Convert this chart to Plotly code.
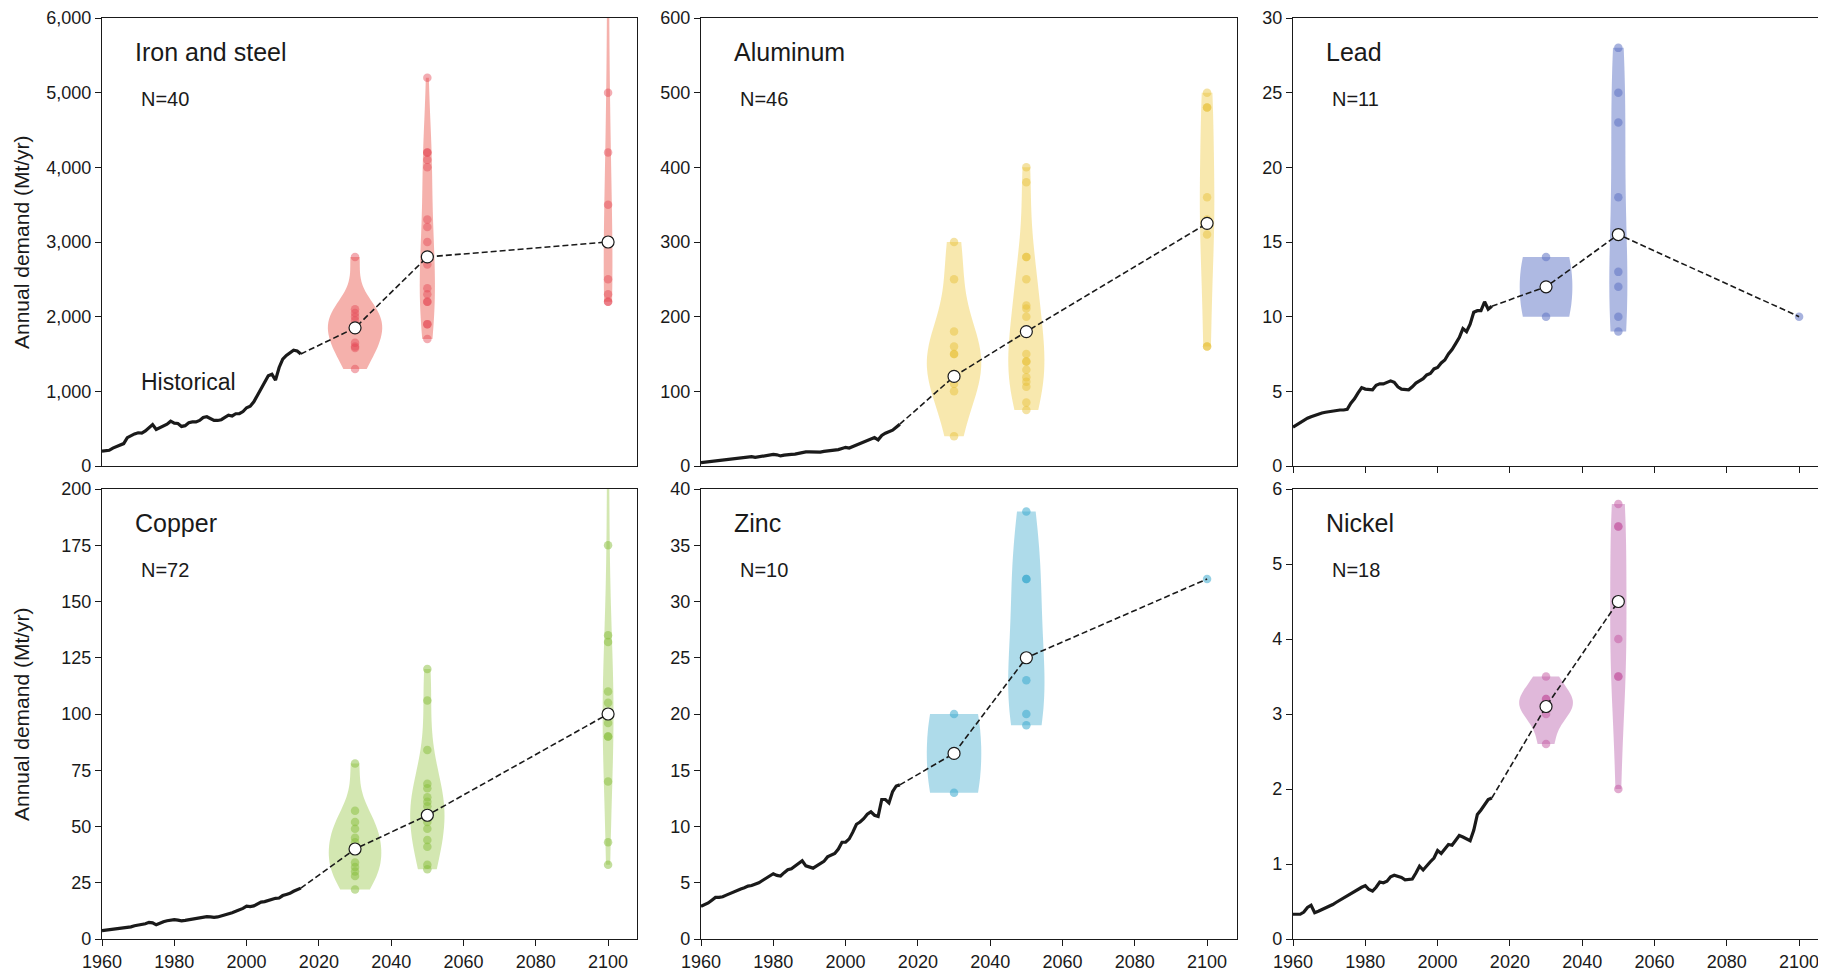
import numpy as np
import plotly.graph_objects as go

# ---------------- data ----------------
hist_years = list(range(1960, 2016))

iron_hist = [200, 205, 210, 240, 260, 280, 300, 380, 410, 430, 445, 440, 470, 520, 555, 490, 510, 530, 560, 600,
             575, 570, 530, 540, 580, 590, 590, 610, 650, 660, 640, 610, 610, 620, 650, 680, 670, 700, 700, 730,
             780, 800, 860, 950, 1050, 1140, 1210, 1230, 1150, 1320, 1430, 1480, 1520, 1550, 1540, 1500]
alu_hist = [4.5, 5, 5.5, 6, 6.5, 7, 7.6, 8.2, 8.8, 9.5, 10, 10.5, 11, 12, 12.5, 11.5, 12.5, 13.5, 14.5, 15.5,
            15.5, 15, 13.5, 14.5, 15.5, 15.5, 16, 17, 18.5, 19, 19, 18.5, 18.5, 18.5, 19.5, 20, 21, 22, 22, 23.5,
            25, 24, 26, 28, 30, 32, 34, 37, 38, 35, 41, 44, 46, 48, 52, 56]
lead_hist = [2.6, 2.75, 2.9, 3.1, 3.2, 3.3, 3.4, 3.45, 3.55, 3.6, 3.65, 3.7, 3.7, 3.75, 3.75, 3.8, 4.2, 4.5, 4.9, 5.25,
             5.15, 5.1, 5.1, 5.4, 5.5, 5.5, 5.6, 5.7, 5.6, 5.3, 5.15, 5.1, 5.1, 5.3, 5.55, 5.7, 5.85, 6.1, 6.2, 6.5,
             6.6, 6.9, 7.1, 7.5, 7.8, 8.2, 8.6, 9.2, 9.0, 9.5, 10.3, 10.4, 10.4, 11.0, 10.5, 10.7]
copper_hist = [3.7, 3.9, 4.1, 4.4, 4.7, 5.0, 5.1, 5.2, 5.4, 5.9, 6.2, 6.3, 6.8, 7.4, 7.2, 6.3, 7.2, 7.7, 8.1, 8.5,
               8.6, 8.4, 8.1, 8.3, 8.6, 8.8, 9.0, 9.4, 9.6, 9.9, 9.8, 9.6, 9.8, 10.2, 10.8, 11.2, 11.7, 12.3, 12.8, 13.6,
               14.6, 14.4, 14.7, 15.4, 16.4, 16.6, 17.1, 17.9, 18.1, 18.2, 19.3, 19.8, 20.3, 21.2, 22.0, 22.6]
zinc_hist = [2.9, 3.05, 3.2, 3.45, 3.7, 3.7, 3.75, 3.9, 4.05, 4.15, 4.3, 4.45, 4.55, 4.7, 4.75, 4.85, 5.0, 5.2, 5.4, 5.6,
             5.8, 5.65, 5.6, 5.9, 6.15, 6.25, 6.5, 6.7, 6.95, 6.5, 6.4, 6.3, 6.5, 6.7, 6.9, 7.3, 7.45, 7.6, 8.0, 8.6,
             8.6, 8.9, 9.5, 10.2, 10.4, 10.7, 11.1, 11.3, 11.0, 10.9, 12.4, 12.4, 12.1, 13.1, 13.6, 13.7]
nickel_hist = [0.33, 0.33, 0.33, 0.36, 0.42, 0.45, 0.35, 0.37, 0.39, 0.41, 0.43, 0.46, 0.49, 0.52, 0.55, 0.58, 0.61, 0.63, 0.66, 0.69,
               0.71, 0.66, 0.64, 0.69, 0.76, 0.75, 0.77, 0.83, 0.85, 0.84, 0.82, 0.79, 0.79, 0.80, 0.88, 0.97, 0.92, 0.98, 1.03, 1.08,
               1.18, 1.14, 1.20, 1.26, 1.25, 1.32, 1.38, 1.36, 1.33, 1.31, 1.45, 1.66, 1.72, 1.79, 1.86, 1.88]

proj_years = [2030, 2050, 2100]

iron_2030 = [1300, 1580, 1600, 1650, 1850, 1950, 2000, 2050, 2100, 2800]
iron_2050 = [1700, 1900, 1900, 2200, 2200, 2300, 2380, 2700, 2800, 3000, 3200, 3300, 4000, 4100, 4200, 4200, 5200]
iron_2100 = [2200, 2200, 2300, 2500, 3000, 3500, 4200, 5000, 6800]
iron_median = [1850, 2800, 3000]

alu_2030 = [40, 100, 110, 120, 150, 150, 160, 180, 250, 300]
alu_2050 = [75, 85, 106, 113, 119, 129, 140, 140, 150, 180, 200, 211, 215, 250, 280, 280, 380, 400]
alu_2100 = [160, 160, 310, 325, 330, 360, 480, 480, 500]
alu_median = [120, 180, 325]

lead_2030 = [10, 14]
lead_2050 = [9, 10, 12, 13, 18, 23, 25, 28]
lead_2100 = [10]
lead_median = [12, 15.5, 10]

copper_2030 = [22, 28, 30, 32, 34, 40, 43, 45, 49, 52, 57, 78]
copper_2050 = [31, 33, 41, 44, 49, 52, 55, 59, 61, 63, 67, 69, 84, 106, 120]
copper_2100 = [33, 43, 70, 90, 90, 96, 100, 105, 110, 132, 135, 175, 215]
copper_median = [40, 55, 100]

zinc_2030 = [13, 20]
zinc_2050 = [19, 20, 23, 25, 32, 32, 38]
zinc_2100 = [32]
zinc_median = [16.5, 25, 32]

nickel_2030 = [2.6, 3.0, 3.1, 3.2, 3.2, 3.5]
nickel_2050 = [2.0, 3.5, 3.5, 4.0, 4.5, 5.5, 5.5, 5.8]
nickel_median = [3.1, 4.5]

titles = ["Iron and steel", "Aluminum", "Lead", "Copper", "Zinc", "Nickel"]
n_labels = ["N=40", "N=46", "N=11", "N=72", "N=10", "N=18"]
y_max = [6000, 600, 30, 200, 40, 6]
y_dtick = [1000, 100, 5, 25, 5, 1]
x_ticks = [1960, 1980, 2000, 2020, 2040, 2060, 2080, 2100]

# ---------------- styling ----------------
FONT = "Liberation Sans, Arial, Helvetica, sans-serif"
INK = "#1a1a1a"
fills = ["rgba(240,140,132,0.68)", "rgba(245,222,140,0.7)", "rgba(120,138,206,0.6)",
         "rgba(190,220,140,0.68)", "rgba(130,200,222,0.65)", "rgba(205,140,195,0.62)"]
pts = ["rgba(228,70,85,0.45)", "rgba(230,190,50,0.45)", "rgba(95,115,195,0.55)",
       "rgba(135,190,60,0.5)", "rgba(60,170,205,0.55)", "rgba(195,85,160,0.5)"]

panels = [
    (iron_hist, [iron_2030, iron_2050, iron_2100], iron_median, [15, 4.2, 2.4]),
    (alu_hist, [alu_2030, alu_2050, alu_2100], alu_median, [15, 10, 4]),
    (lead_hist, [lead_2030, lead_2050, lead_2100], lead_median, [14.5, 5, 0]),
    (copper_hist, [copper_2030, copper_2050, copper_2100], copper_median, [14.5, 9.5, 3]),
    (zinc_hist, [zinc_2030, zinc_2050, zinc_2100], zinc_median, [15, 10, 0]),
    (nickel_hist, [nickel_2030, nickel_2050], nickel_median, [14.8, 4.5]),
]

# the page body adds an 8 px margin before the figure: lay out in page pixels minus that offset
OFF = 8
W, H = 1826, 970
col_px = [(102, 637), (701, 1237), (1293, 1829)]   # page pixels of the frames
row_px = [(18, 466), (489, 939)]
px_per_year = (637 - 102) / 148.0

fig = go.Figure()
layout = dict(template="none", width=W, height=H, margin=dict(l=0, r=0, t=0, b=0, autoexpand=False),
              paper_bgcolor="white", plot_bgcolor="white", showlegend=False,
              violinmode="overlay", font=dict(family=FONT, color=INK))
annotations = []

for i in range(6):
    r, c = divmod(i, 3)
    ax = "" if i == 0 else str(i + 1)
    xa, ya = "x" + ax, "y" + ax
    x0, x1 = col_px[c][0] - OFF, col_px[c][1] - OFF
    xend = 1960 + (x1 - x0) / px_per_year
    y0, y1 = row_px[r][0] - OFF, row_px[r][1] - OFF
    ph = y1 - y0
    hist, proj, med, widths = panels[i]

    # violins (Scott bandwidth, as in a gaussian KDE)
    for k, vals in enumerate(proj):
        yr = proj_years[k]
        if len(vals) > 1:
            bw = float(np.std(vals, ddof=1) * len(vals) ** (-0.2))
            fig.add_trace(go.Violin(
                x=[yr] * len(vals), y=vals, xaxis=xa, yaxis=ya,
                width=widths[k], spanmode="hard", scalemode="width", bandwidth=bw,
                points="all", pointpos=0, jitter=0,
                fillcolor=fills[i], line=dict(width=0, color=fills[i]),
                marker=dict(color=pts[i], size=8.5, line=dict(width=0)),
                box_visible=False, meanline_visible=False,
                hoverinfo="skip", showlegend=False))
        else:
            fig.add_trace(go.Scatter(
                x=[yr] * len(vals), y=vals, xaxis=xa, yaxis=ya, mode="markers",
                marker=dict(color=pts[i], size=8.5, line=dict(width=0)),
                hoverinfo="skip", showlegend=False))

    # historical line
    fig.add_trace(go.Scatter(x=hist_years, y=hist, xaxis=xa, yaxis=ya, mode="lines",
                             line=dict(color=INK, width=3.2), hoverinfo="skip"))
    # dashed projection
    myears = proj_years[:len(med)]
    fig.add_trace(go.Scatter(x=[hist_years[-1]] + myears, y=[hist[-1]] + med, xaxis=xa, yaxis=ya,
                             mode="lines", line=dict(color=INK, width=1.6, dash="6px,3px"),
                             hoverinfo="skip"))
    # median markers (not for single-value years)
    mx = [myears[k] for k in range(len(med)) if len(proj[k]) > 1]
    my = [med[k] for k in range(len(med)) if len(proj[k]) > 1]
    fig.add_trace(go.Scatter(x=mx, y=my, xaxis=xa, yaxis=ya, mode="markers",
                             marker=dict(color="white", size=12, line=dict(color=INK, width=1.2)),
                             hoverinfo="skip"))

    bottom = (r == 1)
    show_xticks = bottom or c == 2
    layout["xaxis" + ax] = dict(
        domain=[x0 / W, x1 / W], anchor=ya, range=[1960, xend], automargin=False,
        tickmode="array", tickvals=x_ticks, ticktext=[str(t) for t in x_ticks],
        showticklabels=bottom, ticks="outside" if show_xticks else "", ticklen=6, tickwidth=1.2,
        tickcolor=INK, showline=True, linecolor=INK, linewidth=1.3, mirror=True,
        ticklabeloverflow="allow",
        showgrid=False, zeroline=False, tickfont=dict(size=18, family=FONT, color=INK))
    layout["yaxis" + ax] = dict(
        domain=[1 - y1 / H, 1 - y0 / H], anchor=xa, range=[0, y_max[i]], automargin=False,
        tick0=0, dtick=y_dtick[i], tickformat=",d" if y_max[i] >= 1000 else "",
        ticks="outside", ticklen=6, tickwidth=1.2, tickcolor=INK,
        showline=True, linecolor=INK, linewidth=1.3, mirror=(c != 2),
        ticklabeloverflow="allow",
        showgrid=False, zeroline=False, tickfont=dict(size=18, family=FONT, color=INK))

    annotations.append(dict(text=titles[i], xref=xa + " domain", yref=ya + " domain",
                            x=31 / 535, y=1 - 34 / ph, xanchor="left", yanchor="middle",
                            showarrow=False, font=dict(size=25, family=FONT, color=INK)))
    annotations.append(dict(text=n_labels[i], xref=xa + " domain", yref=ya + " domain",
                            x=37 / 535, y=1 - 81 / ph, xanchor="left", yanchor="middle",
                            showarrow=False, font=dict(size=20, family=FONT, color=INK)))
    if i == 0:
        annotations.append(dict(text="Historical", xref=xa + " domain", yref=ya + " domain",
                                x=37 / 535, y=84 / ph, xanchor="left", yanchor="middle",
                                showarrow=False, font=dict(size=23, family=FONT, color=INK)))
    if c == 0:
        annotations.append(dict(text="Annual demand (Mt/yr)", xref="paper", yref="paper",
                                x=(21 - OFF) / W, y=1 - (y0 + y1) / 2 / H, xanchor="center", yanchor="middle",
                                textangle=-90, showarrow=False,
                                font=dict(size=21, family=FONT, color=INK)))

layout["annotations"] = annotations
fig.update_layout(**layout)
fig.write_html("out.html")
